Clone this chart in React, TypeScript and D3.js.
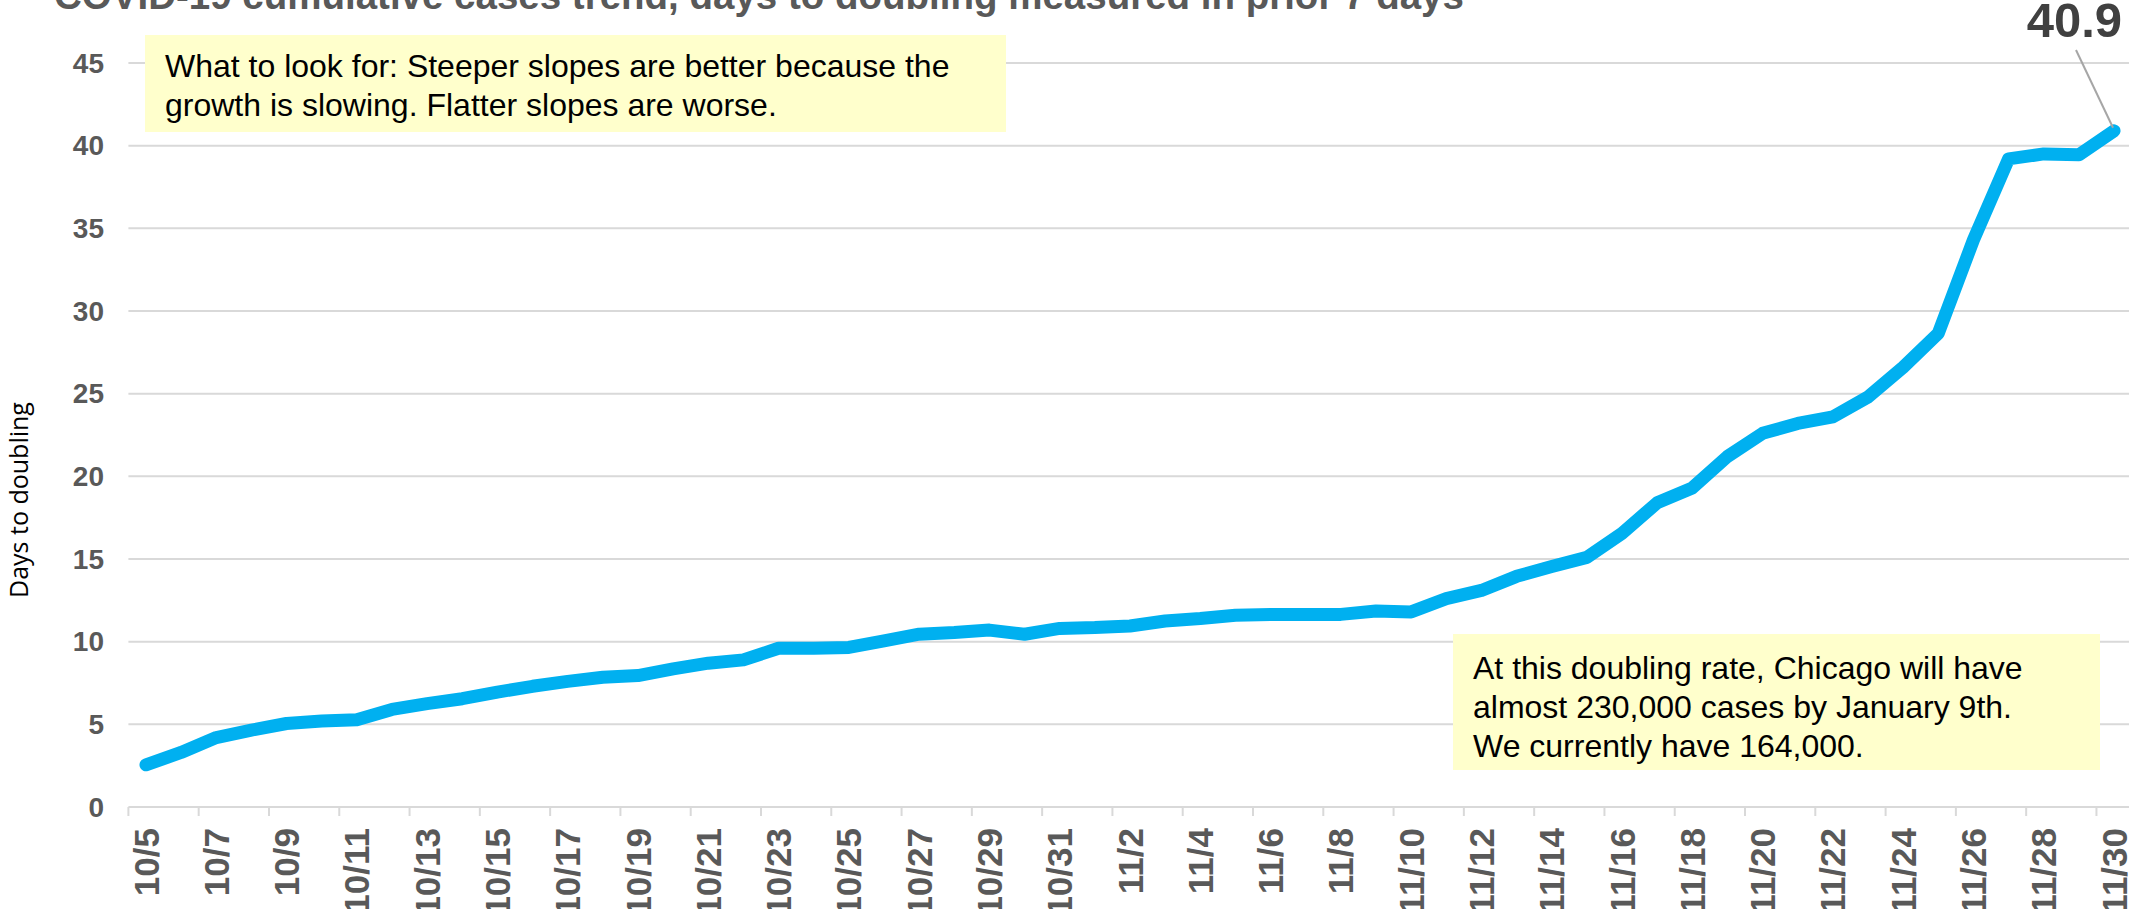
import React from "react";
import * as d3 from "d3";

const dates = [
  "10/5", "10/6", "10/7", "10/8", "10/9", "10/10", "10/11", "10/12", "10/13", "10/14",
  "10/15", "10/16", "10/17", "10/18", "10/19", "10/20", "10/21", "10/22", "10/23", "10/24",
  "10/25", "10/26", "10/27", "10/28", "10/29", "10/30", "10/31", "11/1", "11/2", "11/3",
  "11/4", "11/5", "11/6", "11/7", "11/8", "11/9", "11/10", "11/11", "11/12", "11/13",
  "11/14", "11/15", "11/16", "11/17", "11/18", "11/19", "11/20", "11/21", "11/22", "11/23",
  "11/24", "11/25", "11/26", "11/27", "11/28", "11/29", "11/30",
];

const daysToDoubling = [
  2.55, 3.3, 4.2, 4.65, 5.05, 5.2, 5.28, 5.9, 6.25, 6.55,
  6.95, 7.3, 7.6, 7.85, 7.95, 8.35, 8.7, 8.9, 9.6, 9.6,
  9.65, 10.05, 10.45, 10.55, 10.7, 10.45, 10.8, 10.85, 10.95, 11.25,
  11.4, 11.6, 11.65, 11.65, 11.65, 11.85, 11.8, 12.6, 13.1, 13.95,
  14.55, 15.1, 16.55, 18.4, 19.3, 21.2, 22.6, 23.2, 23.6, 24.8,
  26.6, 28.65, 34.3, 39.2, 39.5, 39.45, 40.9,
];

const yTicks = [0, 5, 10, 15, 20, 25, 30, 35, 40, 45];

const title = "COVID-19 cumulative cases trend, days to doubling measured in prior 7 days";
const noteTop = [
  "What to look for: Steeper slopes are better because the",
  "growth is slowing. Flatter slopes are worse.",
];
const noteBottom = [
  "At this doubling rate, Chicago will have",
  "almost 230,000 cases by January 9th.",
  "We currently have 164,000.",
];

const W = 2129;
const H = 909;
const left = 128.4;
const right = 2131.6;
const top = 63;
const bottom = 807;

const gray = "#595959";
const font = "'Liberation Sans', Arial, sans-serif";

export default function App() {
  const x = d3.scaleBand<string>().domain(dates).range([left, right]).padding(0);
  const y = d3.scaleLinear().domain([0, 45]).range([bottom, top]);
  const bw = x.bandwidth();
  const cx = (d: string) => (x(d) as number) + bw / 2;

  const line = d3
    .line<number>()
    .x((_, i) => cx(dates[i]))
    .y((v) => y(v));

  const last = dates.length - 1;
  const lastX = cx(dates[last]);
  const lastY = y(daysToDoubling[last]);

  return (
    <svg
      width={W}
      height={H}
      style={{ position: "absolute", left: 0, top: 0, background: "#fff", overflow: "hidden" }}
      fontFamily={font}
    >
      {/* gridlines */}
      {yTicks.map((t) => (
        <line key={t} x1={left} x2={W} y1={y(t)} y2={y(t)} stroke="#d9d9d9" strokeWidth={2} />
      ))}
      {/* y tick labels */}
      {yTicks.map((t) => (
        <text
          key={"l" + t}
          x={104}
          y={y(t)}
          dy="0.35em"
          textAnchor="end"
          fontSize={28}
          fontWeight="bold"
          fill={gray}
        >
          {t}
        </text>
      ))}
      {/* x ticks between categories, every second */}
      {dates.map((d, i) =>
        i % 2 === 0 ? (
          <line key={"t" + d} x1={x(d)} x2={x(d)} y1={bottom} y2={bottom + 9} stroke="#d9d9d9" strokeWidth={2} />
        ) : null
      )}
      {dates.map((d, i) =>
        i % 2 === 0 ? (
          <text
            key={"x" + d}
            transform={`translate(${cx(d)},${bottom + 21}) rotate(-90)`}
            dy="0.36em"
            textAnchor="end"
            fontSize={35}
            fontWeight="bold"
            fill={gray}
          >
            {d}
          </text>
        ) : null
      )}
      {/* axis title */}
      <text
        transform={`translate(19,500) rotate(-90)`}
        dy="0.35em"
        textAnchor="middle"
        fontSize={25}
        fontFamily="'Open Sans', sans-serif"
        fill="#000"
      >
        Days to doubling
      </text>
      {/* title */}
      <text x={54} y={9} fontSize={38.5} fontWeight="bold" fill={gray}>
        {title}
      </text>
      {/* annotation boxes */}
      <rect x={145} y={35} width={861} height={97} fill="#ffffcc" />
      {noteTop.map((s, i) => (
        <text key={s} x={165} y={77 + i * 39} fontSize={32} fill="#000">
          {s}
        </text>
      ))}
      <rect x={1453} y={634} width={647} height={136} fill="#ffffcc" />
      {noteBottom.map((s, i) => (
        <text key={s} x={1473} y={679 + i * 39} fontSize={32} fill="#000">
          {s}
        </text>
      ))}
      {/* data line */}
      <path
        d={line(daysToDoubling) || ""}
        fill="none"
        stroke="#00b0f0"
        strokeWidth={13}
        strokeLinejoin="round"
        strokeLinecap="round"
      />
      {/* last value label */}
      <line x1={2076} y1={50} x2={lastX - 1} y2={lastY - 3} stroke="#a6a6a6" strokeWidth={2} />
      <text x={2122} y={37} textAnchor="end" fontSize={49} fontWeight="bold" fill="#404040">
        {daysToDoubling[last].toFixed(1)}
      </text>
    </svg>
  );
}
